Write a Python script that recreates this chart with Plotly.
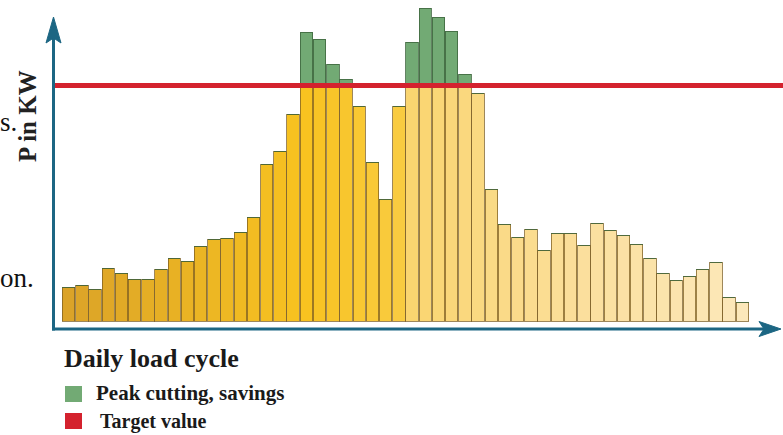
import plotly.graph_objects as go

# ---- data (arbitrary power units, 0 = baseline) ----
load = [34, 36, 32, 53, 48, 42, 42, 52, 63, 60, 75, 82, 83, 89, 104, 157, 170, 207,
        289, 282, 257, 242, 215, 159, 122, 215, 279, 313, 304, 290, 247, 228, 132,
        97, 84, 92, 71, 88, 88, 76, 98, 91, 86, 77, 63, 48, 41, 45, 52, 59, 24, 19]
target = 235.5
slots = list(range(len(load)))

base_part = [min(v, target) for v in load]
peak_part = [max(v - target, 0) for v in load]

W, H = 783, 435

# colour gradient along the day (style only)
stops = [(0, (219, 163, 40)), (18, (248, 195, 32)), (25, (249, 203, 64)),
         (26, (250, 213, 112)), (40, (251, 224, 160)), (51, (252, 232, 186))]


def grad(i):
    for (a, ca), (b, cb) in zip(stops[:-1], stops[1:]):
        if a <= i <= b:
            t = (i - a) / (b - a) if b > a else 0
            c = [round(ca[k] + (cb[k] - ca[k]) * t) for k in range(3)]
            return f"rgb({c[0]},{c[1]},{c[2]})"
    return "rgb(252,232,186)"


colors = [grad(i) for i in slots]

fig = go.Figure()
fig.add_trace(go.Bar(x=slots, y=base_part, marker=dict(color=colors,
                     line=dict(color="rgba(125,95,35,0.75)", width=1)),
                     hoverinfo="skip", showlegend=False))
fig.add_trace(go.Bar(x=slots, y=peak_part, marker=dict(color="#72aa74",
                     line=dict(color="rgba(60,100,60,0.8)", width=1)),
                     hoverinfo="skip", showlegend=False))

# pixel helpers for decorations
def px(x):
    return x / W


def py(y):
    return 1 - y / H


axis_col = "#1c6683"
shapes = []
# target line
shapes.append(dict(type="line", xref="paper", yref="y", x0=px(53), x1=px(783),
                   y0=target, y1=target, line=dict(color="#d4222e", width=5), layer="above"))
# y axis
shapes.append(dict(type="line", xref="paper", yref="paper", x0=px(53.5), x1=px(53.5),
                   y0=py(330.5), y1=py(38), line=dict(color=axis_col, width=3), layer="above"))
shapes.append(dict(type="path", xref="paper", yref="paper",
                   path=f"M {px(53.5)} {py(17)} L {px(61)} {py(43)} L {px(53.5)} {py(38)} "
                        f"L {px(46)} {py(43)} Z",
                   fillcolor=axis_col, line=dict(color=axis_col, width=1), layer="above"))
# x axis
shapes.append(dict(type="line", xref="paper", yref="paper", x0=px(52), x1=px(765),
                   y0=py(329), y1=py(329), line=dict(color=axis_col, width=3), layer="above"))
shapes.append(dict(type="path", xref="paper", yref="paper",
                   path=f"M {px(781)} {py(329)} L {px(759)} {py(321.5)} L {px(764)} {py(329)} "
                        f"L {px(759)} {py(336.5)} Z",
                   fillcolor=axis_col, line=dict(color=axis_col, width=1), layer="above"))
# legend squares
shapes.append(dict(type="rect", xref="paper", yref="paper", x0=px(65), x1=px(82),
                   y0=py(386), y1=py(402), fillcolor="#72aa74", line=dict(width=0)))
shapes.append(dict(type="rect", xref="paper", yref="paper", x0=px(65), x1=px(82),
                   y0=py(413), y1=py(429), fillcolor="#d4222e", line=dict(width=0)))

serif = "Liberation Serif"
ann = [
    dict(text="<b>P in KW</b>", x=px(28), y=py(116), textangle=-90, xanchor="center",
         font=dict(family=serif, size=25, color="#222")),
    dict(text="s.", x=px(-2), y=py(122), xanchor="left",
         font=dict(family=serif, size=27, color="#111")),
    dict(text="on.", x=px(-2), y=py(278), xanchor="left",
         font=dict(family=serif, size=27, color="#111")),
    dict(text="<b>Daily load cycle</b>", x=px(62), y=py(358), xanchor="left",
         font=dict(family=serif, size=26, color="#1a1a1a")),
    dict(text="<b>Peak cutting, savings</b>", x=px(94), y=py(393), xanchor="left",
         font=dict(family=serif, size=21, color="#1a1a1a")),
    dict(text="<b>Target value</b>", x=px(98), y=py(421), xanchor="left",
         font=dict(family=serif, size=20, color="#1a1a1a")),
]
for a in ann:
    a.update(xref="paper", yref="paper", showarrow=False, yanchor="middle")

fig.update_layout(
    width=W, height=H, margin=dict(l=0, r=0, t=0, b=0),
    paper_bgcolor="white", plot_bgcolor="white",
    barmode="stack", bargap=0.06,
    xaxis=dict(range=[-5.193, 54.08], visible=False, fixedrange=True),
    yaxis=dict(range=[-114, 321], visible=False, fixedrange=True),
    shapes=shapes, annotations=ann, showlegend=False,
)
fig.write_html("out.html", config={"displayModeBar": False},
               post_script="document.body.style.margin='0';document.body.style.overflow='hidden';")
